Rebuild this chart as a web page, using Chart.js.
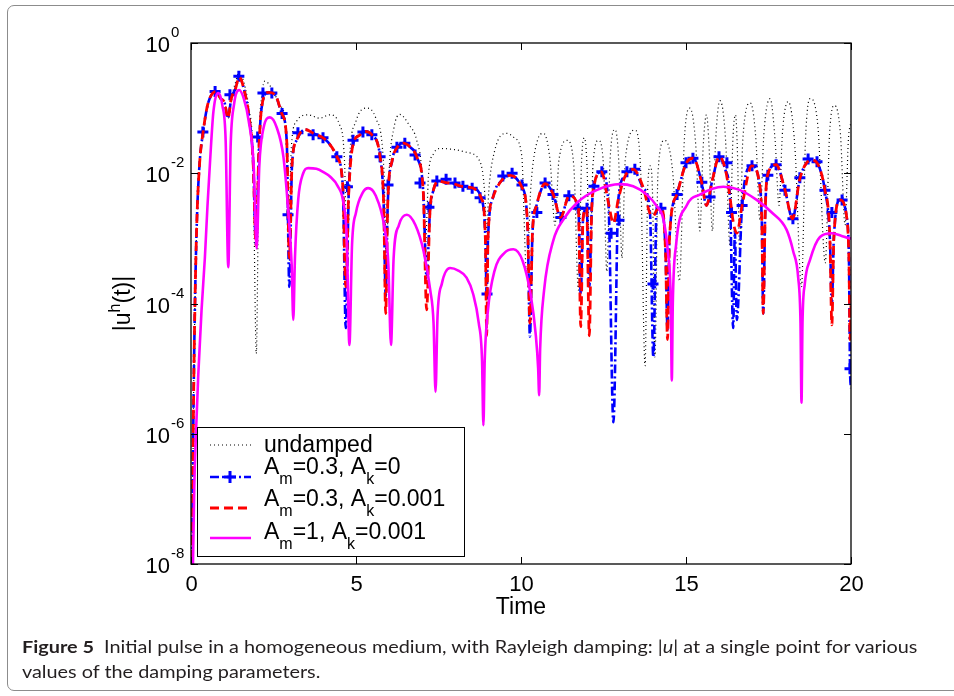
<!DOCTYPE html>
<html>
<head>
<meta charset="utf-8">
<script src="https://cdn.jsdelivr.net/npm/chart.js@4.4.1/dist/chart.umd.min.js"></script>
<style>
  html, body { margin: 0; padding: 0; background: #fff; }
  #wrap { position: relative; width: 954px; height: 696px; overflow: hidden; }
  #frame { position: absolute; left: 7px; top: 5px; width: 990px; height: 684px; border: 1px solid #8c8c8c; border-radius: 7px; }
  #chart { position: absolute; left: 0; top: 0; }
  #caption { position: absolute; left: 22px; top: 634px; font-family: 'Lato', 'Open Sans', sans-serif; font-size: 17px; color: #231f20; line-height: 25px; white-space: nowrap; transform-origin: 0 0; }
</style>
</head>
<body>
<div id="wrap">
  <div id="frame"></div>
  <canvas id="chart" width="954" height="696"></canvas>
  <div id="caption">
    <div id="cap1"><b>Figure 5</b>&nbsp; Initial pulse in a homogeneous medium, with Rayleigh damping: |<i>u</i>| at a single point for various</div>
    <div id="cap2">values of the damping parameters.</div>
  </div>
</div>
<script>
// ---- data (time, |u|) ----
const undampedT = [0.02,0.05,0.08,0.12,0.18,0.26,0.37,0.5,0.62,0.75,
  0.9,1.02,1.12,1.22,1.35,1.46,1.6,1.75,1.88,1.98,
  2.06,2.15,2.24,2.45,2.7,2.88,2.96,3.04,3.2,3.55,
  3.9,4.2,4.5,4.65,4.72,4.8,5.0,5.32,5.6,5.85,
  5.92,6.0,6.15,6.33,6.6,6.84,7.0,7.1,7.2,7.35,
  7.55,8.0,8.35,8.76,8.9,8.96,9.02,9.2,9.57,9.8,
  10.02,10.17,10.3,10.5,10.68,10.88,11.03,11.15,11.4,11.6,
  11.74,11.83,11.92,12.0,12.09,12.18,12.35,12.5,12.6,12.7,
  12.85,12.96,13.06,13.16,13.45,13.62,13.76,13.84,13.92,13.99,
  14.06,14.15,14.35,14.6,14.8,14.95,15.12,15.3,15.42,15.52,
  15.62,15.7,15.8,15.9,16.03,16.2,16.33,16.42,16.5,16.56,
  16.63,16.72,16.95,17.12,17.24,17.36,17.55,17.7,17.82,17.92,
  18.1,18.3,18.5,18.62,18.76,19.0,19.22,19.35,19.5,19.68,
  19.82,19.92,20];
const undampedU = [1e-9,1e-7,4e-6,1e-4,2e-3,1.4e-2,4.4e-2,1.1e-1,1.6e-1,1.8e-1,
  1.4e-1,1.2e-1,7e-2,1.4e-1,2.5e-1,3.6e-1,2.5e-1,1e-1,1.6e-2,1.7e-5,
  2.5e-2,1.6e-1,2.6e-1,2e-1,1.1e-1,5e-2,1.6e-3,2.5e-2,6.3e-2,7.9e-2,
  7e-2,7.9e-2,5.6e-2,1.6e-2,1e-3,1.6e-2,6.3e-2,1e-1,7e-2,1e-2,
  5e-4,1e-2,5e-2,8e-2,5.6e-2,3.2e-2,1e-2,7.4e-4,1e-2,2e-2,
  2.4e-2,2.3e-2,2.1e-2,1.5e-2,5e-3,1.2e-3,5e-3,2.2e-2,4.1e-2,3.5e-2,
  1.9e-2,2.9e-4,6.3e-3,3.2e-2,4.1e-2,1.6e-2,1.6e-3,1.6e-2,3.2e-2,1.3e-2,
  1.6e-4,1.3e-2,3.5e-2,1.3e-2,3.2e-4,1.3e-2,3.2e-2,1.3e-2,3.1e-4,1.6e-2,
  4.7e-2,1.6e-2,5e-4,1.6e-2,4.6e-2,1.3e-2,1.1e-5,6e-3,1.3e-2,4e-3,
  1.5e-5,1e-2,3.2e-2,1e-2,2.2e-4,3.2e-2,1e-1,2.5e-2,1.3e-3,2.5e-2,
  7.9e-2,2.5e-2,1.3e-3,3.2e-2,1.3e-1,3.2e-2,8e-4,3.2e-2,7.9e-2,2e-2,
  5e-4,3.2e-2,1.2e-1,3.2e-2,1.9e-3,4e-2,1.4e-1,3.2e-2,3.2e-3,4e-2,
  1.26e-1,2.5e-2,1.8e-4,3.2e-2,1.4e-1,5e-2,4.2e-4,4e-2,1.1e-1,4e-2,
  1.6e-3,3.2e-2,6.3e-2];

// Am=0.3, Ak=0.001 (red dashed)
const redT = [0.02,0.05,0.08,0.12,0.18,0.26,0.37,0.5,0.62,0.75,
  0.9,1.02,1.12,1.22,1.35,1.46,1.6,1.75,1.88,1.97,
  2.06,2.15,2.34,2.55,2.75,2.9,2.98,3.06,3.2,3.45,
  3.75,4.0,4.2,4.42,4.6,4.69,4.78,4.92,5.1,5.27,
  5.48,5.73,5.84,5.9,5.96,6.1,6.25,6.43,6.65,6.84,
  7.04,7.14,7.24,7.35,7.49,7.72,7.95,8.2,8.5,8.81,
  8.92,8.96,9.0,9.16,9.4,9.67,10.02,10.2,10.27,10.35,
  10.47,10.73,10.98,11.2,11.46,11.74,11.81,11.88,11.99,12.07,
  12.14,12.21,12.44,12.65,12.8,12.95,13.15,13.4,13.71,13.91,
  14.01,14.11,14.26,14.38,14.44,14.5,14.72,15.0,15.22,15.47,
  15.62,15.8,16.01,16.2,16.33,16.43,16.54,16.7,16.99,17.24,
  17.3,17.34,17.4,17.46,17.73,18.0,18.23,18.45,18.81,19.21,
  19.36,19.42,19.48,19.67,19.87,19.94,19.97,20];
const redU = [1e-9,1e-7,4e-6,1e-4,2e-3,1.4e-2,4.4e-2,1.1e-1,1.6e-1,1.8e-1,
  1.4e-1,1.2e-1,7e-2,1.4e-1,2e-1,3e-1,2e-1,7.9e-2,1.6e-2,7.9e-4,
  2.5e-2,1.1e-1,1.74e-1,1.6e-1,8.3e-2,3.2e-2,5e-4,1.3e-2,3.2e-2,4.7e-2,
  4e-2,3.5e-2,2.8e-2,1.8e-2,6.3e-3,1.8e-4,5e-3,2.9e-2,3.8e-2,4.4e-2,
  3.9e-2,1.8e-2,3.2e-3,7e-5,3.2e-3,1.6e-2,2.5e-2,2.9e-2,2.5e-2,1.8e-2,
  5e-3,8e-5,2.5e-3,5.6e-3,7.6e-3,7.2e-3,6.9e-3,6.3e-3,6e-3,4e-3,
  1e-3,3.2e-5,1e-3,4.4e-3,7.6e-3,9.3e-3,6.2e-3,1.6e-3,5e-5,1.3e-3,
  3.2e-3,6.9e-3,4.7e-3,2.1e-3,4.5e-3,2.9e-3,4.4e-5,2e-3,2.9e-3,3.2e-5,
  2.5e-3,6.3e-3,1.05e-2,3.5e-3,1.7e-3,4e-3,8.9e-3,1.15e-2,5.9e-3,2.4e-3,
  2.2e-3,2.7e-3,2.9e-3,6.3e-4,2.8e-5,1e-3,4.7e-3,1.4e-2,1.7e-2,7.4e-3,
  3.2e-3,7.9e-3,1.8e-2,1.1e-2,4.4e-3,1.8e-3,1.2e-3,3.2e-3,1.3e-2,6.2e-3,
  1.6e-3,7e-5,2.5e-3,8.9e-3,1.35e-2,5.5e-3,2e-3,8.3e-3,1.6e-2,5.5e-3,
  1e-3,4.7e-5,1e-3,3.9e-3,2.1e-3,4e-4,2.8e-5,1e-4];

// Am=0.3, Ak=0 (blue dash-dot)
const blueT = [0.02,0.05,0.08,0.12,0.18,0.26,0.37,0.5,0.62,0.75,
  0.9,1.02,1.12,1.22,1.35,1.46,1.6,1.75,1.88,1.97,
  2.06,2.15,2.34,2.55,2.75,2.9,2.98,3.06,3.2,3.45,
  3.75,4.0,4.2,4.42,4.6,4.69,4.78,4.92,5.1,5.27,
  5.48,5.73,5.84,5.9,5.96,6.1,6.25,6.43,6.65,6.84,
  7.04,7.14,7.24,7.35,7.49,7.72,7.95,8.2,8.5,8.81,
  8.92,8.96,9.0,9.16,9.4,9.67,10.02,10.2,10.27,10.35,
  10.47,10.73,10.98,11.2,11.46,11.74,11.81,11.88,11.99,12.07,
  12.14,12.21,12.44,12.65,12.8,12.95,13.15,13.4,13.71,13.91,
  14.01,14.11,14.26,14.38,14.44,14.5,14.72,15.0,15.22,15.47,
  15.62,15.8,16.01,16.2,16.33,16.43,16.48,16.54,16.7,16.99,
  17.24,17.3,17.34,17.4,17.46,17.73,18.0,18.23,18.45,18.81,
  19.21,19.36,19.42,19.48,19.67,19.87,19.94,19.97,20];
const blueU = [1e-9,1e-7,4e-6,1e-4,2e-3,1.4e-2,4.4e-2,1.1e-1,1.6e-1,1.8e-1,
  1.4e-1,1.2e-1,7e-2,1.4e-1,2e-1,3e-1,2e-1,7.9e-2,1.6e-2,7.9e-4,
  2.5e-2,1.1e-1,1.74e-1,1.6e-1,8.3e-2,3.2e-2,1.8e-4,1.3e-2,3.2e-2,4.7e-2,
  4e-2,3.5e-2,2.8e-2,1.8e-2,6.3e-3,4.2e-5,5e-3,2.9e-2,3.8e-2,4.4e-2,
  3.9e-2,1.8e-2,3.2e-3,1.3e-4,3.2e-3,1.6e-2,2.5e-2,2.9e-2,2.5e-2,1.8e-2,
  5e-3,2.5e-4,2.5e-3,5.6e-3,7.6e-3,7.2e-3,6.9e-3,6.3e-3,6e-3,4e-3,
  1e-3,1.4e-4,1e-3,4.4e-3,7.6e-3,9.3e-3,6.2e-3,1.6e-3,3.1e-5,1.3e-3,
  3.2e-3,6.9e-3,4.7e-3,2.1e-3,4.5e-3,2.9e-3,1.4e-4,2e-3,2.9e-3,1.8e-4,
  2.5e-3,6.3e-3,1.05e-2,3.5e-3,1.5e-6,4e-3,8.9e-3,1.15e-2,5.9e-3,2.4e-3,
  1.5e-5,2.7e-3,2.9e-3,6.3e-4,4e-5,1e-3,4.7e-3,1.4e-2,1.7e-2,7.4e-3,
  3.2e-3,7.9e-3,1.8e-2,1.1e-2,4.4e-3,4.2e-5,1.3e-3,5.6e-5,3.2e-3,1.3e-2,
  6.2e-3,1.6e-3,7e-5,2.5e-3,8.9e-3,1.35e-2,5.5e-3,2e-3,8.3e-3,1.6e-2,
  5.5e-3,1e-3,1e-4,1e-3,3.9e-3,2.1e-3,4e-4,1e-5,5e-6];

// '+' markers on the blue curve
const markT = [0.36,0.73,1.18,1.45,2.02,2.18,2.45,2.76,2.94,3.24,
  3.7,4.0,4.42,4.74,4.91,5.21,5.48,5.73,5.97,6.24,
  6.48,6.79,6.94,7.21,7.45,7.73,8.0,8.24,8.52,8.76,
  8.97,9.45,9.73,10.03,10.48,10.73,10.97,11.21,11.45,11.73,
  12.0,12.21,12.45,12.73,12.97,13.21,13.45,14.0,14.24,14.73,
  15.0,15.21,15.48,15.73,16.0,16.24,16.38,16.7,17.0,17.48,
  17.73,18.0,18.24,18.45,18.7,18.97,19.21,19.42,19.73,19.97];
const markU = [4.3e-2,1.8e-1,1.6e-1,3.1e-1,3.6e-2,1.7e-1,1.7e-1,8.3e-2,2.3e-3,4.2e-2,
  3.9e-2,3.5e-2,1.8e-2,6.2e-3,3.2e-2,4.3e-2,3.9e-2,1.8e-2,6.6e-3,2.5e-2,
  2.9e-2,1.9e-2,7.1e-3,3e-3,7.6e-3,8.1e-3,7.1e-3,6.3e-3,5.9e-3,4.2e-3,
  1.4e-4,9.1e-3,1e-2,6.6e-3,2.5e-3,7.1e-3,4.7e-3,2.1e-3,4.5e-3,2.9e-3,
  2.9e-3,6.3e-3,1.05e-2,1.2e-3,1.9e-3,1.05e-2,1.15e-2,2e-4,2.9e-3,4.7e-3,
  1.45e-2,1.7e-2,7.3e-3,4.3e-3,1.8e-2,1.45e-2,2.5e-3,3.2e-3,1.3e-2,9.3e-3,
  1.35e-2,5.5e-3,2e-3,8.5e-3,1.65e-2,1.5e-2,5.5e-3,2.5e-3,3.9e-3,1e-5];

// Am=1, Ak=0.001 (magenta solid)
const magT = [0.03,0.06,0.1,0.15,0.22,0.32,0.42,0.5,0.58,0.68,
  0.83,0.95,1.05,1.13,1.2,1.3,1.46,1.6,1.75,1.9,
  1.99,2.07,2.2,2.39,2.6,2.8,2.95,3.05,3.1,3.15,
  3.25,3.4,3.55,3.8,4.0,4.21,4.45,4.62,4.72,4.8,
  4.88,5.0,5.2,5.37,5.6,5.85,5.98,6.06,6.14,6.3,
  6.54,6.8,7.05,7.25,7.35,7.41,7.47,7.6,7.85,8.1,
  8.35,8.55,8.72,8.82,8.86,8.9,9.0,9.2,9.5,9.77,
  10.05,10.3,10.45,10.52,10.55,10.58,10.7,10.98,11.3,11.69,
  12.29,13.0,13.4,13.81,14.1,14.31,14.45,14.54,14.57,14.6,
  14.7,15.02,15.42,16.13,16.6,17.14,17.6,18.05,18.25,18.4,
  18.47,18.5,18.53,18.6,18.76,19.06,19.42,19.7,19.97,20];
const magU = [3e-9,1e-8,1.6e-7,1e-6,8e-6,8e-5,5e-4,3.2e-3,1.6e-2,8.9e-2,
  1.7e-1,1.1e-1,3.2e-2,3.6e-4,2.5e-2,1.1e-1,1.9e-1,1.4e-1,6.3e-2,1.3e-2,
  7e-4,1.3e-2,5e-2,7.2e-2,5e-2,1.8e-2,2.5e-3,4e-4,5.6e-5,5e-4,
  4e-3,1e-2,1.2e-2,1.17e-2,1.05e-2,8.9e-3,6.3e-3,3.5e-3,1e-3,2.3e-5,
  8e-4,2.5e-3,5e-3,5.9e-3,4.5e-3,1.6e-3,4e-4,2.3e-5,5e-4,1.6e-3,
  2.3e-3,1.6e-3,6.3e-4,1.6e-4,5e-5,4.4e-6,6.3e-5,2e-4,3.5e-4,3.2e-4,
  2.5e-4,1.4e-4,5e-5,1.3e-5,1.35e-6,1.3e-5,8e-5,3.2e-4,6e-4,6.8e-4,
  4.5e-4,1.3e-4,3.2e-5,1e-5,3.9e-6,2e-5,1.6e-4,9.3e-4,2e-3,3.5e-3,
  5.5e-3,6.8e-3,6.3e-3,4.7e-3,3.2e-3,2e-3,6.3e-4,1e-4,6.6e-6,1e-4,
  8e-4,3.2e-3,4.7e-3,6.2e-3,5.6e-3,3.9e-3,2.5e-3,1.35e-3,6.3e-4,2.5e-4,
  5e-5,3e-6,5e-5,2e-4,4.7e-4,1.05e-3,1.2e-3,1.1e-3,1e-3,1e-3];

const xTicks = [0, 5, 10, 15, 20];
const xTickLabels = ['0', '5', '10', '15', '20'];
const yTicks = [1, 1e-2, 1e-4, 1e-6, 1e-8];
const yTickExps = ['0', '-2', '-4', '-6', '-8'];

const FONT = '"Liberation Sans", Arial, Helvetica, sans-serif';

function pts(ts, us) {
  return ts.map((t, i) => ({ x: t, y: us[i] }));
}

// text with _x (subscript) and ^x (superscript)
function richText(ctx, text, x, y, size, small, draw) {
  const parts = text.split(/([_^]\w)/).filter(s => s);
  parts.forEach(p => {
    let s = p, dy = 0;
    if (p[0] === '_') { s = p[1]; dy = 10; ctx.font = small + 'px ' + FONT; }
    else if (p[0] === '^') { s = p[1]; dy = -10; ctx.font = small + 'px ' + FONT; }
    else ctx.font = size + 'px ' + FONT;
    if (draw) ctx.fillText(s, x, y + dy);
    x += ctx.measureText(s).width;
  });
  return x;
}

const axesPlugin = {
  id: 'matlabAxes',
  afterDatasetsDraw(chart) {
    const { ctx, chartArea: a, scales: { x, y } } = chart;
    ctx.save();
    ctx.fillStyle = '#000';
    ctx.strokeStyle = '#000';
    ctx.lineWidth = 1.3;
    ctx.setLineDash([]);
    ctx.strokeRect(a.left, a.top, a.right - a.left, a.bottom - a.top);

    // x ticks + labels
    ctx.lineWidth = 1;
    ctx.textAlign = 'center';
    ctx.textBaseline = 'alphabetic';
    ctx.font = '22px ' + FONT;
    xTicks.forEach((v, i) => {
      const px = Math.round(x.getPixelForValue(v)) + 0.5;
      ctx.beginPath();
      ctx.moveTo(px, a.bottom); ctx.lineTo(px, a.bottom - 7);
      ctx.moveTo(px, a.top); ctx.lineTo(px, a.top + 7);
      ctx.stroke();
      ctx.fillText(xTickLabels[i], px, a.bottom + 27);
    });

    // y ticks + labels 10^n
    yTicks.forEach((v, i) => {
      const py = Math.round(y.getPixelForValue(v)) + 0.5;
      ctx.beginPath();
      ctx.moveTo(a.left, py); ctx.lineTo(a.left + 7, py);
      ctx.moveTo(a.right, py); ctx.lineTo(a.right - 7, py);
      ctx.stroke();
      ctx.textAlign = 'right';
      ctx.font = '22px ' + FONT;
      ctx.fillText('10', a.left - 21, py + 8);
      ctx.textAlign = 'left';
      ctx.font = '15px ' + FONT;
      ctx.fillText(yTickExps[i], a.left - 20, py - 7);
    });

    // axis titles
    ctx.textAlign = 'center';
    ctx.font = '23px ' + FONT;
    ctx.fillText('Time', (a.left + a.right) / 2, a.bottom + 50);

    ctx.save();
    ctx.translate(122, (a.top + a.bottom) / 2);
    ctx.rotate(-Math.PI / 2);
    ctx.textAlign = 'left';
    const yLabel = '|u^h(t)|';
    const w = richText(ctx, yLabel, 0, 0, 23, 16, false);
    richText(ctx, yLabel, -w / 2, 8, 23, 16, true);
    ctx.restore();

    // legend
    const lx = 197.5, ly = 427.5, lw = 267, lh = 129;
    ctx.fillStyle = '#fff';
    ctx.fillRect(lx, ly, lw, lh);
    ctx.lineWidth = 1;
    ctx.strokeRect(lx, ly, lw, lh);
    const rowLine = [445, 477, 508, 538];
    const rowText = [452, 474, 506, 539];
    chart.data.datasets.filter(d => d.legendRow !== undefined).forEach(d => {
      const r = d.legendRow;
      ctx.strokeStyle = d.borderColor;
      ctx.lineWidth = d.borderWidth;
      ctx.setLineDash(d.borderDash || []);
      ctx.beginPath();
      ctx.moveTo(210, rowLine[r]); ctx.lineTo(251, rowLine[r]);
      ctx.stroke();
      if (r === 1) {
        ctx.setLineDash([]);
        ctx.lineWidth = 3;
        ctx.beginPath();
        ctx.moveTo(224, rowLine[r]); ctx.lineTo(236, rowLine[r]);
        ctx.moveTo(230, rowLine[r] - 6); ctx.lineTo(230, rowLine[r] + 6);
        ctx.stroke();
      }
      ctx.fillStyle = '#000';
      ctx.textAlign = 'left';
      richText(ctx, d.label, 264, rowText[r], 23, 16, true);
    });
    ctx.restore();
  }
};

new Chart(document.getElementById('chart'), {
  type: 'line',
  data: {
    datasets: [
      { label: 'A_m=1, A_k=0.001', legendRow: 3, data: pts(magT, magU), borderColor: '#ff00ff', borderWidth: 2.6, order: 0 },
      { label: 'A_m=0.3, A_k=0.001', legendRow: 2, data: pts(redT, redU), borderColor: '#ff0000', borderWidth: 2.8, borderDash: [9, 5], order: 1 },
      { label: 'markers', data: pts(markT, markU), showLine: false, borderColor: '#0000ff',
        pointStyle: 'cross', pointRadius: 5.5, pointBorderWidth: 3, pointBorderColor: '#0000ff', pointBackgroundColor: '#0000ff', order: 2 },
      { label: 'A_m=0.3, A_k=0', legendRow: 1, data: pts(blueT, blueU), borderColor: '#0000ff', borderWidth: 2.6, borderDash: [9, 3, 2, 3], order: 3 },
      { label: 'undamped', legendRow: 0, data: pts(undampedT, undampedU), borderColor: '#000000', borderWidth: 1.2, borderDash: [1, 3], order: 4 }
    ]
  },
  options: {
    responsive: false,
    animation: false,
    layout: { padding: { left: 191, right: 103, top: 43, bottom: 132 } },
    elements: {
      point: { radius: 0, hoverRadius: 0 },
      line: { cubicInterpolationMode: 'monotone', fill: false }
    },
    scales: {
      x: { type: 'linear', min: 0, max: 20, display: false },
      y: { type: 'logarithmic', min: 1e-8, max: 1, display: false }
    },
    plugins: { legend: { display: false }, tooltip: { enabled: false } }
  },
  plugins: [axesPlugin]
});

// squeeze caption to the width of the printed line
const cap = document.getElementById('caption');
const w1 = document.getElementById('cap1').scrollWidth;
cap.style.transform = 'scaleX(' + (896 / w1) + ')';
</script>
</body>
</html>
